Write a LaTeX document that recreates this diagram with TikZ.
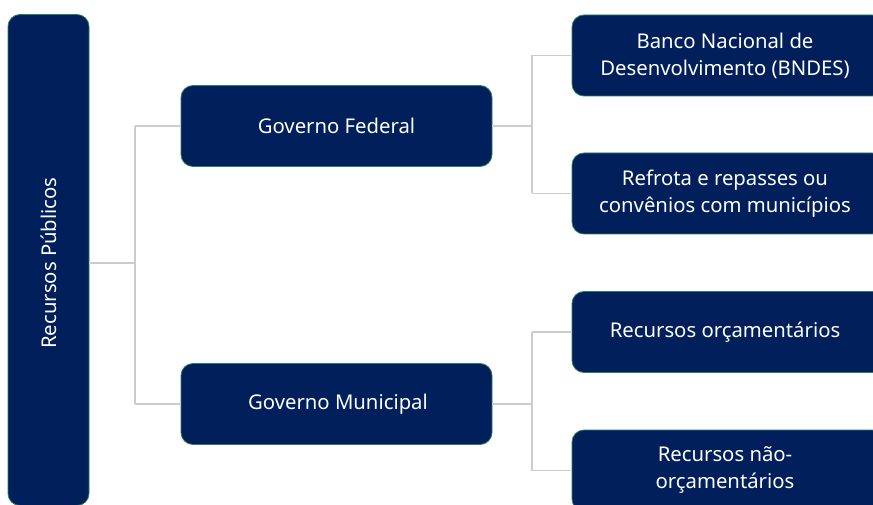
\documentclass[tikz,border=0pt]{standalone}
\usepackage{fontspec}
\setmainfont{Noto Sans}
\definecolor{navy}{HTML}{001F5B}
\definecolor{edge}{HTML}{2E7D5B}
\definecolor{conn}{HTML}{CCCCCC}
\begin{document}
\begin{tikzpicture}[x=1pt,y=-1pt,
  box/.style={draw=edge,line width=0.8pt,fill=navy,rounded corners=12pt,text=white,align=center,font=\fontsize{20.3}{27}\selectfont,inner sep=0pt},
  lbl/.style={text=white,align=center,font=\fontsize{20.3}{27}\selectfont,inner sep=0pt},
  conline/.style={draw=conn,line width=1.3pt}]
\useasboundingbox (0,0) rectangle (873,505);
\clip (0,0) rectangle (873,505);
\node[box,minimum width=81pt,minimum height=491pt] (rp) at (48.5,260) {};
\node[lbl,rotate=90] (rpt) at (48.5,263) {Recursos Públicos};
\node[box,minimum width=311pt,minimum height=81pt] (gf) at (336.5,126) {};
\node[lbl] (gft) at (336.5,126) {Governo Federal};
\node[box,minimum width=311pt,minimum height=81pt] (gm) at (336.5,404) {};
\node[lbl] (gmt) at (338,404) {Governo Municipal};
\node[box,minimum width=312pt,minimum height=81pt] (bn) at (728,55.5) {};
\node[lbl] (bnt) at (725,55.5) {Banco Nacional de\\Desenvolvimento (BNDES)};
\node[box,minimum width=312pt,minimum height=81pt] (rf) at (728,193.5) {};
\node[lbl] (rft) at (725,193.5) {Refrota e repasses ou\\convênios com municípios};
\node[box,minimum width=312pt,minimum height=81pt] (ro) at (728,332) {};
\node[lbl] (rot) at (725,332) {Recursos orçamentários};
\node[box,minimum width=312pt,minimum height=81pt] (rn) at (728,470.5) {};
\node[lbl] (rnt) at (725,470) {Recursos não-\\orçamentários};
\coordinate (j1) at (135,263);
\coordinate (j2) at (532,126);
\coordinate (j3) at (532,404);
\draw[conline] (rp.east |- j1) -- (j1);
\draw[conline] (j1 |- gf.west) -- (gf.west);
\draw[conline] (j1 |- gm.west) -- (gm.west);
\draw[conline] (j1 |- gf.west) -- (j1 |- gm.west);
\draw[conline] (gf.east) -- (j2);
\draw[conline] (j2 |- bn.west) -- (bn.west);
\draw[conline] (j2 |- rf.west) -- (rf.west);
\draw[conline] (j2 |- bn.west) -- (j2 |- rf.west);
\draw[conline] (gm.east) -- (j3);
\draw[conline] (j3 |- ro.west) -- (ro.west);
\draw[conline] (j3 |- rn.west) -- (rn.west);
\draw[conline] (j3 |- ro.west) -- (j3 |- rn.west);
\end{tikzpicture}
\end{document}
